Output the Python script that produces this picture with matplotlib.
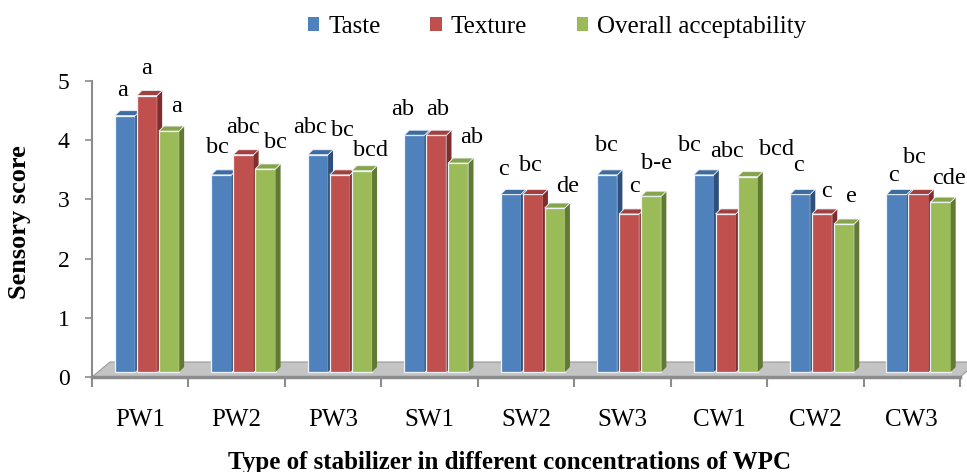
import matplotlib
matplotlib.use("Agg")
import matplotlib.pyplot as plt
from matplotlib.patches import Polygon, Patch
from matplotlib.transforms import offset_copy
import numpy as np

categories = ["PW1", "PW2", "PW3", "SW1", "SW2", "SW3", "CW1", "CW2", "CW3"]
series_names = ["Taste", "Texture", "Overall acceptability"]
taste = [4.33, 3.33, 3.67, 4.00, 3.00, 3.33, 3.33, 3.00, 3.00]
texture = [4.67, 3.67, 3.33, 4.00, 3.00, 2.67, 2.67, 2.67, 3.00]
overall = [4.07, 3.43, 3.40, 3.53, 2.77, 2.97, 3.30, 2.50, 2.87]
letters_taste = ["a", "bc", "abc", "ab", "c", "bc", "bc", "c", "c"]
letters_texture = ["a", "abc", "bc", "ab", "bc", "c", "abc", "c", "bc"]
letters_overall = ["a", "bc", "bcd", "ab", "de", "b-e", "bcd", "e", "cde"]
y_ticks = [0, 1, 2, 3, 4, 5]

# label placement offsets (pixels from bar top centre), styling only
off_taste = [(-2, 25), (-4, 27), (-8, 27), (-12, 26), (-7, 25), (-1, 29), (-14, 29), (-2, 29), (-3, 19)]
off_texture = [(0, 27), (0, 27), (3, 44), (1, 26), (-2, 29), (5, 27), (1, 62), (4, 22), (-4, 37)]
off_overall = [(8, 25), (10, 26), (9, 20), (13, 26), (13, 22), (5, 33), (29, 27), (7, 27), (8, 24)]

values = [taste, texture, overall]
letters = [letters_taste, letters_texture, letters_overall]
offsets = [off_taste, off_texture, off_overall]
front = ["#4F81BD", "#C0504D", "#9BBB59"]
topc = ["#3F6C9F", "#A33F3C", "#86A44A"]
sidec = ["#2F507A", "#7E2F2D", "#617A33"]

plt.rcParams['font.family'] = ['Liberation Serif', 'DejaVu Serif']

W, H = 967, 472
fig = plt.figure(figsize=(W / 100, H / 100), dpi=100)
ax_l, ax_r, ax_b, ax_t = 92, 960, 377, 81
ax = fig.add_axes([ax_l / W, 1 - ax_b / H, (ax_r - ax_l) / W, (ax_b - ax_t) / H])
n = len(categories)
ax.set_xlim(0, n)
ax.set_ylim(0, 5)

px_x = n / (ax_r - ax_l)      # data units per pixel in x
px_y = 5 / (ax_b - ax_t)      # data units per pixel in y

# floor (3D base)
fd_x, fd_y = 18, 15
floor_top = Polygon([(0, 0), (n, 0), (n + fd_x * px_x, fd_y * px_y), (fd_x * px_x, fd_y * px_y)],
                    closed=True, facecolor="#C4C4C4", edgecolor="#9A9A9A", lw=0.8,
                    clip_on=False, zorder=1)
ax.add_patch(floor_top)

shift = offset_copy(ax.transData, fig=fig, x=7, y=5, units='dots')
bw = 0.21
step = 0.228
start = 0.165
dx, dy = 5 * px_x, 5 * px_y
for j in range(3):
    xs = np.arange(n) + start + j * step
    bars = ax.bar(xs, values[j], width=bw, align='edge', color=front[j],
                  edgecolor="#EEF3FA", linewidth=0.9, zorder=3 + j)
    for b in bars:
        b.set_transform(shift)
        b.set_clip_on(False)
    for i, (x0, h) in enumerate(zip(xs, values[j])):
        x1 = x0 + bw
        top = Polygon([(x0, h), (x1, h), (x1 + dx, h + dy), (x0 + dx, h + dy)], closed=True,
                      facecolor=topc[j], edgecolor="#EEF3FA", lw=0.6, transform=shift,
                      clip_on=False, zorder=3 + j)
        side = Polygon([(x1, 0), (x1 + dx, dy), (x1 + dx, h + dy), (x1, h)], closed=True,
                       facecolor=sidec[j], edgecolor="none", transform=shift,
                       clip_on=False, zorder=3 + j)
        ax.add_patch(side)
        ax.add_patch(top)
        ox, oy = offsets[j][i]
        ax.annotate(letters[j][i], xy=(x0 + bw / 2, h), xycoords=shift,
                    xytext=(ox, oy), textcoords='offset pixels', ha='center', va='center',
                    fontsize=17.5, zorder=10, annotation_clip=False)

# axes styling
for s in ['top', 'right']:
    ax.spines[s].set_visible(False)
ax.spines['left'].set_color('#8C8C8C')
ax.spines['left'].set_linewidth(1.5)
ax.spines['bottom'].set_color('#8C8C8C')
ax.spines['bottom'].set_linewidth(2.5)
ax.spines['bottom'].set_zorder(2)

ax.set_yticks(y_ticks)
ax.set_yticklabels([str(t) for t in y_ticks], fontsize=17)
ax.tick_params(axis='y', direction='out', length=5, width=1.2, color='#8C8C8C', pad=11)

ax.set_xticks(np.arange(n + 1))
ax.set_xticklabels([])
ax.set_xticks(np.arange(n) + 0.5, minor=True)
ax.set_xticklabels(categories, minor=True, fontsize=18)
ax.tick_params(axis='x', which='major', direction='out', length=7, width=1.5, color='#8C8C8C')
ax.tick_params(axis='x', which='minor', length=0, pad=23)

fig.text(20 / W, 1 - 222 / H, "Sensory score", rotation=90, ha='center', va='center',
         fontsize=19, fontweight='bold')
fig.text(510 / W, 1 - 462 / H, "Type of stabilizer in different concentrations of WPC",
         ha='center', va='center', fontsize=18, fontweight='bold')

handles = [Patch(facecolor=c, edgecolor='none') for c in front]
fig.legend(handles, series_names, loc='center', bbox_to_anchor=(557 / W, 1 - 27 / H),
           ncol=3, frameon=False, fontsize=18, handlelength=0.45, handleheight=0.45,
           handletextpad=0.35, columnspacing=2.0)

fig.savefig("out.png", dpi=100)
